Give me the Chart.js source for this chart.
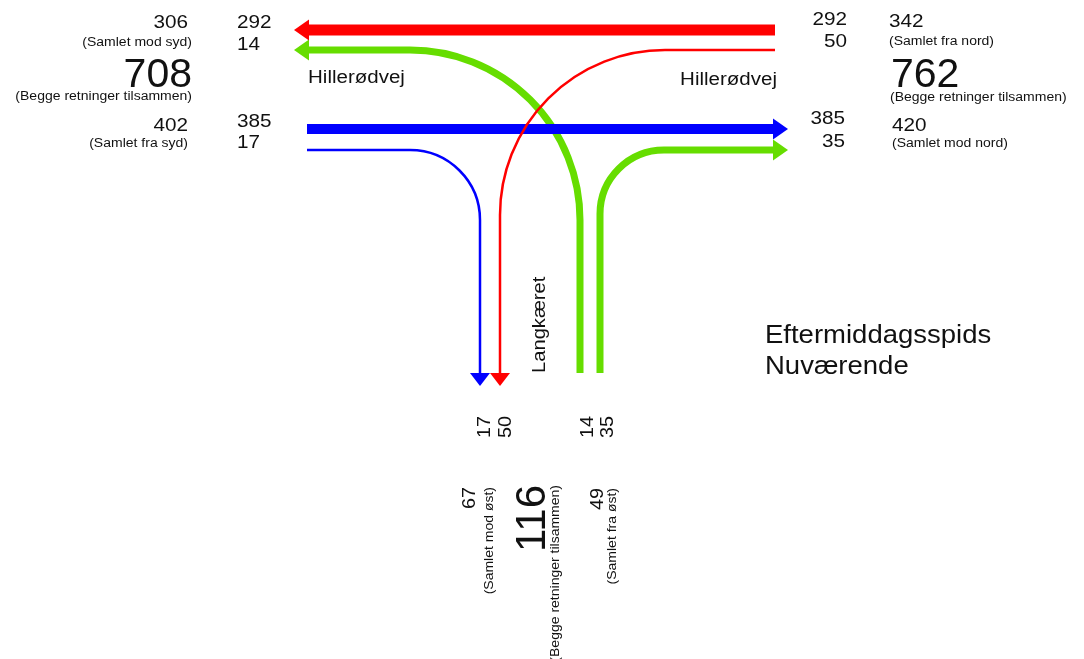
<!DOCTYPE html>
<html>
<head>
<meta charset="utf-8">
<script src="https://cdn.jsdelivr.net/npm/chart.js@4.4.0/dist/chart.umd.min.js"></script>
<style>
	html, body { margin: 0; padding: 0; background: #ffffff; }
</style>
</head>
<body>
<canvas id="diagram" width="1084" height="659"></canvas>
<script>
// trafiktal eftermiddagsspids, nuværende situation
const movements = ['Fra nord ligeud', 'Fra nord til Langkæret', 'Fra Langkæret mod syd', 'Fra syd ligeud', 'Fra syd til Langkæret', 'Fra Langkæret mod nord'];
const volumes = [292, 50, 14, 385, 17, 35];

const roadName = 'Hillerødvej';
const sideRoad = 'Langkæret';
const titleLines = ['Eftermiddagsspids', 'Nuværende'];

// styles per movement
const colors = ['#ff0000', '#ff0000', '#66dd00', '#0000ff', '#0000ff', '#66dd00'];
const widths = [11, 2.5, 7, 10, 2.5, 7];
const radii = [0, 165, 170, 0, 70, 64];
const drawOrder = [2, 5, 3, 4, 0, 1];

// totals
const toSouth = volumes[0] + volumes[2];
const fromSouth = volumes[3] + volumes[4];
const fromNorth = volumes[0] + volumes[1];
const toNorth = volumes[3] + volumes[5];
const toEast = volumes[1] + volumes[4];
const fromEast = volumes[2] + volumes[5];

// road layout (in scale units)
const westEnd = 309, eastEnd = 775, westStart = 307, eastArrow = 773;
const laneSouth = 30, laneSouthTurn = 50, laneNorth = 129, laneNorthTurn = 150;
const laneEastIn1 = 480, laneEastIn2 = 500, laneEastOut1 = 580, laneEastOut2 = 600, sideEnd = 373;

const paths = [
	[[eastEnd, laneSouth], [westEnd, laneSouth]],
	[[eastEnd, laneSouthTurn], [laneEastIn2, laneSouthTurn], [laneEastIn2, sideEnd]],
	[[laneEastOut1, sideEnd], [laneEastOut1, laneSouthTurn], [westEnd, laneSouthTurn]],
	[[westStart, laneNorth], [eastArrow, laneNorth]],
	[[westStart, laneNorthTurn], [laneEastIn1, laneNorthTurn], [laneEastIn1, sideEnd]],
	[[laneEastOut2, sideEnd], [laneEastOut2, laneNorthTurn], [eastArrow, laneNorthTurn]],
];

const FONT = '"Liberation Sans", Arial, Helvetica, sans-serif';
const INK = '#111111';

// text: [tekst, x, y, størrelse, justering, roteret, strækning]
const labels = [
	[String(toSouth), 188, 28, 18, 'right', false, 1.15],
	['(Samlet mod syd)', 192, 46, 12.5, 'right', false, 1.12],
	[String(toSouth + fromSouth), 192, 87, 41, 'right', false, 1.0],
	['(Begge retninger tilsammen)', 192, 100, 12.5, 'right', false, 1.12],
	[String(fromSouth), 188, 131, 18, 'right', false, 1.15],
	['(Samlet fra syd)', 188, 147, 12.5, 'right', false, 1.12],
	[String(volumes[0]), 237, 28, 18, 'left', false, 1.15],
	[String(volumes[2]), 237, 50, 18, 'left', false, 1.15],
	[String(volumes[3]), 237, 127, 18, 'left', false, 1.15],
	[String(volumes[4]), 237, 148, 18, 'left', false, 1.15],
	[roadName, 308, 83, 18, 'left', false, 1.14],
	[roadName, 777, 85, 18, 'right', false, 1.14],
	[String(volumes[0]), 847, 25, 18, 'right', false, 1.15],
	[String(volumes[1]), 847, 47, 18, 'right', false, 1.15],
	[String(volumes[3]), 845, 124, 18, 'right', false, 1.15],
	[String(volumes[5]), 845, 147, 18, 'right', false, 1.15],
	[String(fromNorth), 889, 27, 18, 'left', false, 1.15],
	['(Samlet fra nord)', 889, 45, 12.5, 'left', false, 1.12],
	[String(fromNorth + toNorth), 891, 87, 41, 'left', false, 1.0],
	['(Begge retninger tilsammen)', 890, 101, 12.5, 'left', false, 1.12],
	[String(toNorth), 892, 131, 18, 'left', false, 1.15],
	['(Samlet mod nord)', 892, 147, 12.5, 'left', false, 1.12],
	[titleLines[0], 765, 343, 25, 'left', false, 1.1],
	[titleLines[1], 765, 374, 25, 'left', false, 1.1],
	// lodrette tekster ved Langkæret
	[sideRoad, 545, 373, 18, 'left', true, 1.12],
	[String(volumes[4]), 490, 438, 18, 'left', true, 1.1],
	[String(volumes[1]), 511, 438, 18, 'left', true, 1.1],
	[String(volumes[2]), 593, 438, 18, 'left', true, 1.1],
	[String(volumes[5]), 613, 438, 18, 'left', true, 1.1],
	[String(toEast), 475, 487, 18, 'right', true, 1.1],
	['(Samlet mod øst)', 493, 487, 12.5, 'right', true, 1.12],
	[String(toEast + fromEast), 545, 485, 42, 'right', true, 1.0],
	['(Begge retninger tilsammen)', 559, 485, 12.5, 'right', true, 1.12],
	[String(fromEast), 603, 488, 18, 'right', true, 1.1],
	['(Samlet fra øst)', 616, 488, 12.5, 'right', true, 1.12],
];

function drawArrowHead(ctx, tip, dir, len, half, color) {
	ctx.fillStyle = color;
	ctx.beginPath();
	ctx.moveTo(tip.x + dir.x * len, tip.y + dir.y * len);
	ctx.lineTo(tip.x - dir.y * half, tip.y + dir.x * half);
	ctx.lineTo(tip.x + dir.y * half, tip.y - dir.x * half);
	ctx.closePath();
	ctx.fill();
}

const flowPlugin = {
	id: 'flowPlugin',
	afterDatasetsDraw(chart) {
		const ctx = chart.ctx;
		const xs = chart.scales.x;
		const ys = chart.scales.y;
		const unit = xs.getPixelForValue(1) - xs.getPixelForValue(0);

		for (let k = 0; k < drawOrder.length; k++) {
			const i = drawOrder[k];
			const pts = chart.getDatasetMeta(i).data.map((p) => ({ x: p.x, y: p.y }));
			ctx.save();
			ctx.strokeStyle = colors[i];
			ctx.lineWidth = widths[i];
			ctx.lineCap = 'butt';
			ctx.beginPath();
			ctx.moveTo(pts[0].x, pts[0].y);
			for (let j = 1; j < pts.length - 1; j++) {
				ctx.arcTo(pts[j].x, pts[j].y, pts[j + 1].x, pts[j + 1].y, radii[i] * unit);
			}
			ctx.lineTo(pts[pts.length - 1].x, pts[pts.length - 1].y);
			ctx.stroke();

			// arrow head at the end of every movement
			const a = pts[pts.length - 2];
			const b = pts[pts.length - 1];
			const d = Math.hypot(b.x - a.x, b.y - a.y);
			const dir = { x: (b.x - a.x) / d, y: (b.y - a.y) / d };
			const vertical = Math.abs(dir.y) > 0.5;
			drawArrowHead(ctx, b, dir, vertical ? 13 : 15, vertical ? 10 : 10.5, colors[i]);
			ctx.restore();
		}

		// texts
		for (let t = 0; t < labels.length; t++) {
			const [text, x, y, size, align, rotated, stretch] = labels[t];
			ctx.save();
			ctx.translate(xs.getPixelForValue(x), ys.getPixelForValue(y));
			if (rotated) {
				ctx.rotate(-Math.PI / 2);
			}
			// stretch along the text direction
			ctx.scale(stretch, 1);
			ctx.font = size + 'px ' + FONT;
			ctx.fillStyle = INK;
			ctx.textAlign = align;
			ctx.textBaseline = 'alphabetic';
			ctx.fillText(text, 0, 0);
			ctx.restore();
		}
	},
};

const data_flows = {
	datasets: movements.map((m, i) => ({
		label: m + ' (' + volumes[i] + ')',
		data: paths[i].map((p) => ({ x: p[0], y: p[1] })),
		showLine: false,
		pointRadius: 0,
		pointHoverRadius: 0,
	})),
};

const config_flows = {
	type: 'scatter',
	data: data_flows,
	options: {
		responsive: false,
		animation: false,
		events: [],
		layout: { padding: 0 },
		plugins: {
			legend: { display: false },
			tooltip: { enabled: false },
			title: { display: false },
		},
		scales: {
			x: { type: 'linear', min: 0, max: 1084, display: false },
			y: { type: 'linear', min: 0, max: 659, reverse: true, display: false },
		},
	},
	plugins: [flowPlugin],
};

const myFlows = new Chart(document.getElementById('diagram'), config_flows);
</script>
</body>
</html>
